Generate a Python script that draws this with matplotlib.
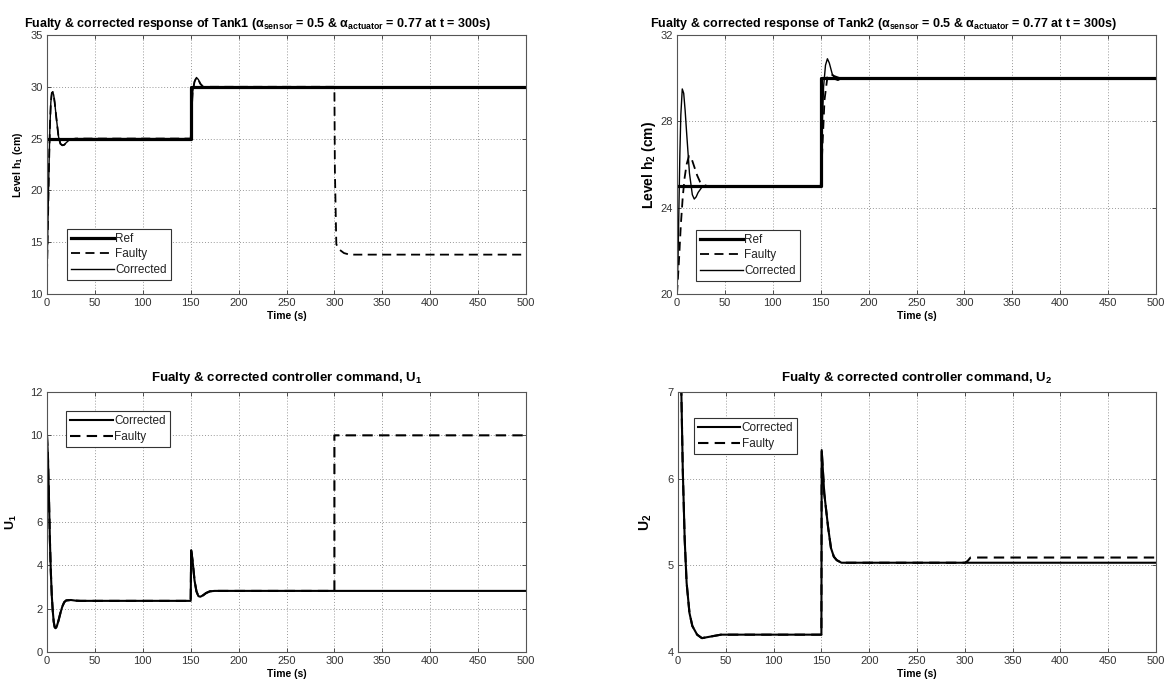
import matplotlib
matplotlib.use('Agg')
import matplotlib.pyplot as plt

plt.rcParams['font.family'] = ['Liberation Sans', 'DejaVu Sans']

# Tank 1 level (cm)
t1_ref = [0, 150, 150, 500]
h1_ref = [25, 25, 30, 30]
t1_cor = [0, 1, 2, 3, 4, 5, 6, 7, 8, 10, 12, 14, 16, 18, 20, 23, 26, 30, 35,
          150, 151, 152, 154, 156, 158, 160, 163, 166, 170, 175, 500]
h1_cor = [12, 17, 22, 26, 28.5, 29.4, 29.5, 29.2, 28.5, 26.8, 25.2, 24.5, 24.35, 24.4, 24.6, 24.85, 24.95, 25, 25,
          25, 27.5, 29.5, 30.5, 30.9, 30.7, 30.3, 30.0, 29.9, 30, 30, 30]
t1_fau = t1_cor[:-1] + [300, 300.5, 302, 305, 310, 315, 320, 500]
h1_fau = h1_cor[:-1] + [30, 22, 14.8, 14.3, 13.95, 13.82, 13.8, 13.8]

# Tank 2 level (cm)
t2_ref = [0, 150, 150, 500]
h2_ref = [25, 25, 30, 30]
t2_cor = [0, 1, 2, 3, 4, 5.5, 7, 8.5, 10, 13, 16, 18, 20, 22, 26, 30,
          150, 151, 153, 155, 157, 159, 162, 165, 168, 172, 180, 500]
h2_cor = [20, 21.5, 24, 26.5, 28.3, 29.5, 29.3, 28.5, 27.5, 25.6, 24.6, 24.4, 24.5, 24.7, 24.95, 25,
          25, 27, 29.6, 30.6, 30.9, 30.7, 30.2, 29.95, 29.9, 30, 30, 30]
t2_fau = [0, 2, 4, 6, 8, 10, 12.5, 15, 18, 21, 24, 28, 32,
          150, 152, 154, 157, 160, 164, 170, 500]
h2_fau = [20, 21.5, 23.2, 24.5, 25.4, 26.0, 26.4, 26.3, 25.9, 25.5, 25.2, 25.05, 25,
          25, 27, 29, 30.05, 30.2, 30.1, 30, 30]

# controller command U1
tu1_cor = [0, 1, 2, 3, 4, 5, 6, 7, 8, 9, 10, 12, 14, 16, 18, 20, 25, 30, 35,
           150, 150.5, 152, 154, 156, 158, 160, 163, 166, 170, 175, 500]
u1_cor = [10, 9, 7.2, 5.2, 3.7, 2.6, 1.9, 1.4, 1.15, 1.1, 1.15, 1.45, 1.8, 2.1, 2.3, 2.38, 2.4, 2.37, 2.36,
          2.36, 4.7, 4.2, 3.3, 2.8, 2.58, 2.55, 2.62, 2.72, 2.8, 2.82, 2.82]
tu1_fau = tu1_cor[:-1] + [300, 300, 500]
u1_fau = u1_cor[:-1] + [2.82, 10, 10]

# controller command U2
tu2_cor = [0, 2, 3.5, 5, 7, 9, 12, 15, 20, 25, 35, 45,
           150, 150.3, 153, 157, 160, 163, 166, 171, 500]
u2_cor = [9, 7.8, 7.0, 6.1, 5.3, 4.8, 4.45, 4.3, 4.2, 4.16, 4.18, 4.2,
          4.2, 6.33, 5.83, 5.44, 5.2, 5.1, 5.06, 5.03, 5.03]
tu2_fau = tu2_cor[:-1] + [300, 303, 306, 500]
u2_fau = u2_cor[:-1] + [5.03, 5.05, 5.09, 5.09]

W, H = 1171, 684
fig = plt.figure(figsize=(W / 100, H / 100), dpi=100)


def make_ax(x0, y0, x1, y1):
    return fig.add_axes([x0 / W, 1 - y1 / H, (x1 - x0) / W, (y1 - y0) / H])


def style(ax, ylim, yticks):
    ax.set_xlim(0, 500)
    ax.set_xticks(range(0, 501, 50))
    ax.set_ylim(*ylim)
    ax.set_yticks(yticks)
    ax.grid(True, linestyle=(0, (1, 2)), color='#999999', linewidth=0.7)
    ax.tick_params(direction='in', top=True, right=True, labelsize=8,
                   colors='#333333', length=3, width=0.6, pad=3)
    for s in ax.spines.values():
        s.set_color('#555555')
        s.set_linewidth(0.8)
    ax.set_xlabel('Time (s)', fontsize=7.5, fontweight='bold', labelpad=2)


def legend(ax, loc, anchor):
    lg = ax.legend(loc=loc, bbox_to_anchor=anchor, fontsize=8.5, handlelength=3.6,
                   handletextpad=0.1, labelspacing=0.3, borderpad=0.35,
                   borderaxespad=0, fancybox=False, framealpha=1)
    lg.get_frame().set_edgecolor('#333333')
    lg.get_frame().set_linewidth(0.8)
    for txt in lg.get_texts():
        txt.set_color('#222222')


dash = (0, (5, 3))

# Tank 1
ax = make_ax(47, 35, 526, 294)
ax.plot(t1_ref, h1_ref, color='black', lw=2.3, label='Ref')
ax.plot(t1_fau, h1_fau, color='black', lw=1.3, linestyle=dash, label='Faulty')
ax.plot(t1_cor, h1_cor, color='black', lw=1.0, label='Corrected')
style(ax, (10, 35), range(10, 36, 5))
ax.set_ylabel('Level h$_{\\mathregular{1}}$ (cm)', fontsize=7.5, fontweight='bold', labelpad=4)
ax.set_title('Fualty & corrected response of Tank1 (α$_{\\mathregular{sensor}}$ = 0.5 & '
             'α$_{\\mathregular{actuator}}$ = 0.77 at t = 300s)',
             fontsize=9, fontweight='bold', x=0.44, pad=6)
legend(ax, 'lower left', (0.042, 0.054))

# Tank 2
ax = make_ax(677, 35, 1156, 294)
ax.plot(t2_ref, h2_ref, color='black', lw=2.3, label='Ref')
ax.plot(t2_fau, h2_fau, color='black', lw=1.3, linestyle=dash, label='Faulty')
ax.plot(t2_cor, h2_cor, color='black', lw=1.0, label='Corrected')
style(ax, (20, 32), range(20, 33, 4))
ax.set_ylabel('Level h$_{\\mathregular{2}}$ (cm)', fontsize=10, fontweight='bold', labelpad=2)
ax.set_title('Fualty & corrected response of Tank2 (α$_{\\mathregular{sensor}}$ = 0.5 & '
             'α$_{\\mathregular{actuator}}$ = 0.77 at t = 300s)',
             fontsize=9, fontweight='bold', x=0.43, pad=6)
legend(ax, 'lower left', (0.040, 0.05))

# U1
ax = make_ax(47, 392, 526, 652)
ax.plot(tu1_cor, u1_cor, color='black', lw=1.5, label='Corrected')
ax.plot(tu1_fau, u1_fau, color='black', lw=1.5, linestyle=dash, label='Faulty')
style(ax, (0, 12), range(0, 13, 2))
ax.set_ylabel('U$_{\\mathregular{1}}$', fontsize=9, fontweight='bold', labelpad=8)
ax.set_title('Fualty & corrected controller command, U$_{\\mathregular{1}}$',
             fontsize=9.5, fontweight='bold', pad=8)
legend(ax, 'upper left', (0.040, 0.927))

# U2
ax = make_ax(678, 392, 1156, 652)
ax.plot(tu2_cor, u2_cor, color='black', lw=1.5, label='Corrected')
ax.plot(tu2_fau, u2_fau, color='black', lw=1.5, linestyle=dash, label='Faulty')
style(ax, (4, 7), range(4, 8))
ax.set_ylabel('U$_{\\mathregular{2}}$', fontsize=10, fontweight='bold', labelpad=10)
ax.set_title('Fualty & corrected controller command, U$_{\\mathregular{2}}$',
             fontsize=9.5, fontweight='bold', pad=8)
legend(ax, 'upper left', (0.033, 0.9))

fig.savefig('out.png', dpi=100)
